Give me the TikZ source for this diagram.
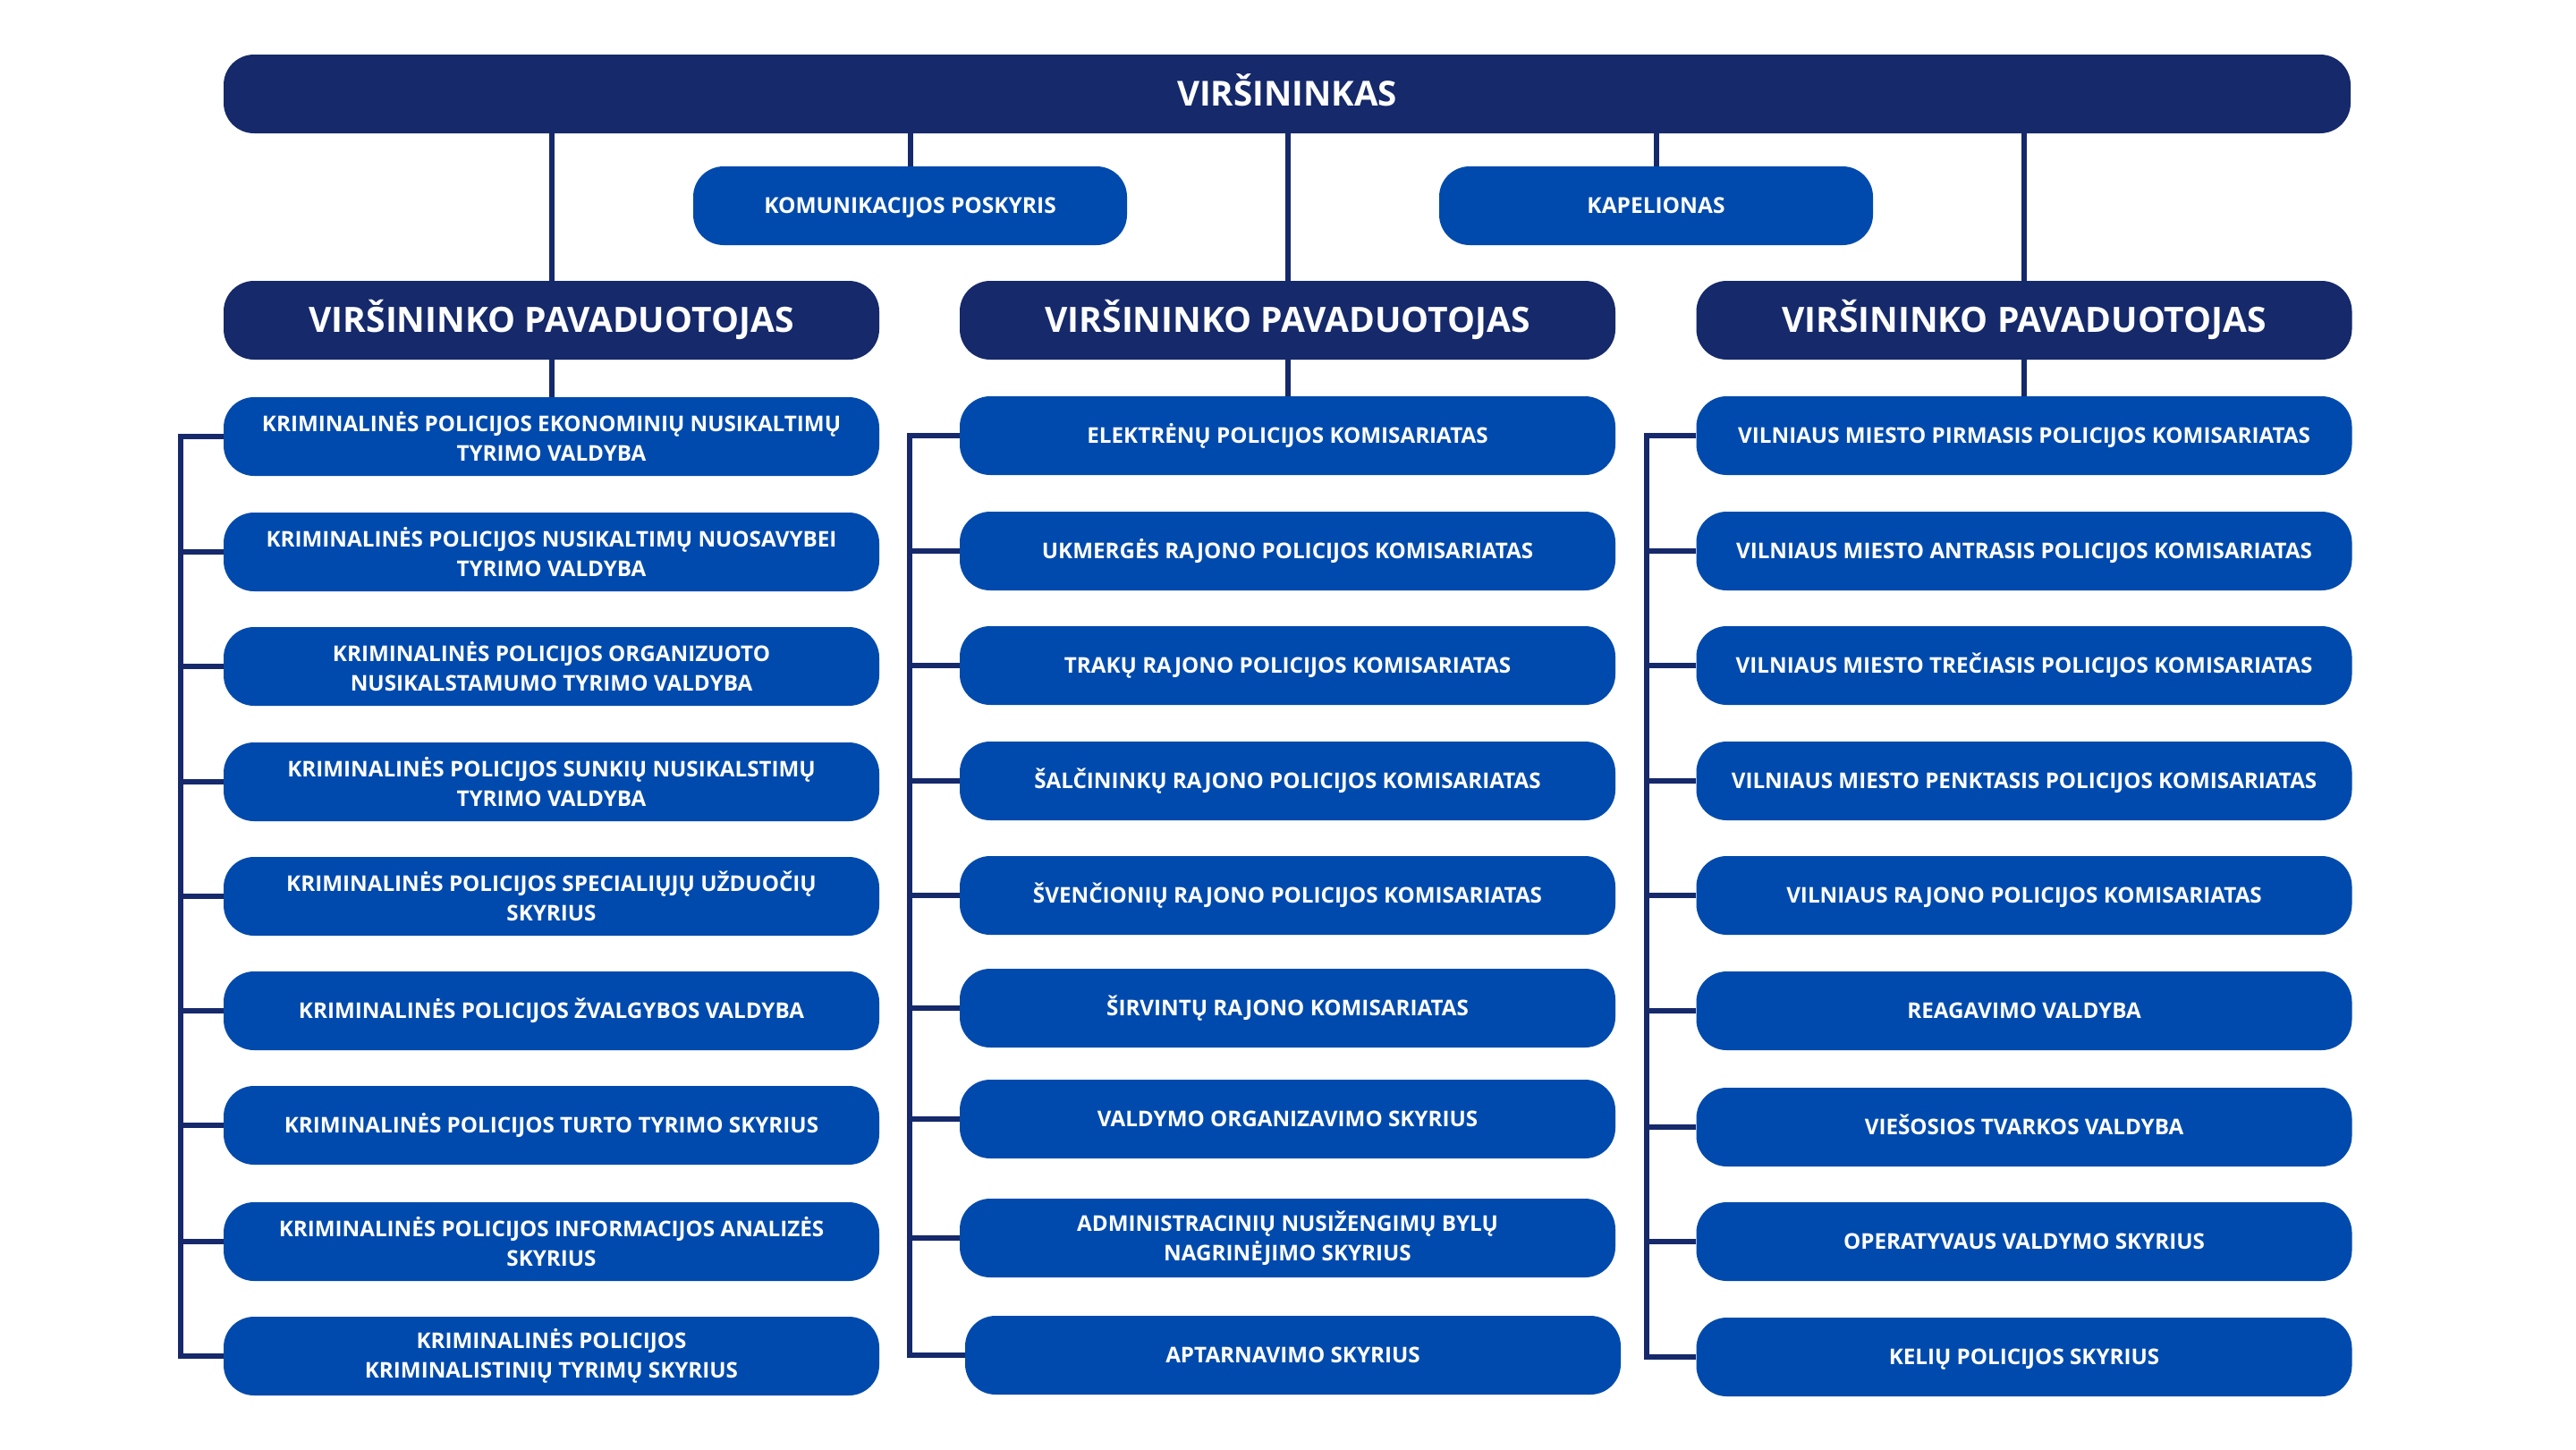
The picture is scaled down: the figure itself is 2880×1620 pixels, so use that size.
\documentclass[tikz,border=0pt]{standalone}
\usepackage{fontspec}
\setmainfont{Open Sans}
\definecolor{navy}{HTML}{15296B}
\definecolor{royal}{HTML}{004AAD}
\tikzset{
  base/.style={rectangle, rounded corners=34pt, inner sep=0pt, text=white, align=center, font=\bfseries},
  topbar/.style={base, fill=navy, minimum width=2378pt, minimum height=88pt, font=\fontsize{38.5}{44}\selectfont\bfseries, text height=27.5pt, text depth=0pt},
  deputy/.style={base, fill=navy, minimum width=733pt, minimum height=88pt, font=\fontsize{39}{44}\selectfont\bfseries, text height=27.8pt, text depth=0pt},
  staff/.style={base, fill=royal, minimum width=485pt, minimum height=88pt, font=\fontsize{24.5}{32}\selectfont\bfseries, text height=17.5pt, text depth=0pt},
  unit/.style={base, fill=royal, minimum width=733pt, minimum height=88pt, font=\fontsize{24.2}{33}\selectfont\bfseries},
  unitone/.style={unit, text height=17.3pt, text depth=0pt},
  conn/.style={draw=navy, line width=6pt},
}
\begin{document}
\begin{tikzpicture}[x=1pt,y=-1pt]
\useasboundingbox (0,0) rectangle (2880,1620);
\fill[white] (0,0) rectangle (2880,1620);

\node[topbar] (top) at (1439,105) {VIRŠININKAS};
\node[staff] (kom) at (1017.5,230) {KOMUNIKACIJOS POSKYRIS};
\node[staff] (kap) at (1851.5,230) {KAPELIONAS};
\node[deputy] (d1) at (616.5,358) {VIRŠININKO PAVADUOTOJAS};
\node[deputy] (d2) at (1439.5,358) {VIRŠININKO PAVADUOTOJAS};
\node[deputy] (d3) at (2263,358) {VIRŠININKO PAVADUOTOJAS};

% left column
\node[unit] (l1) at (616.5,488) {KRIMINALINĖS POLICIJOS EKONOMINIŲ NUSIKALTIMŲ\\TYRIMO VALDYBA};
\node[unit] (l2) at (616.5,617) {KRIMINALINĖS POLICIJOS NUSIKALTIMŲ NUOSAVYBEI\\TYRIMO VALDYBA};
\node[unit] (l3) at (616.5,745) {KRIMINALINĖS POLICIJOS ORGANIZUOTO\\NUSIKALSTAMUMO TYRIMO VALDYBA};
\node[unit] (l4) at (616.5,874) {KRIMINALINĖS POLICIJOS SUNKIŲ NUSIKALSTIMŲ\\TYRIMO VALDYBA};
\node[unit] (l5) at (616.5,1002) {KRIMINALINĖS POLICIJOS SPECIALIŲJŲ UŽDUOČIŲ\\SKYRIUS};
\node[unitone] (l6) at (616.5,1130) {KRIMINALINĖS POLICIJOS ŽVALGYBOS VALDYBA};
\node[unitone] (l7) at (616.5,1258) {KRIMINALINĖS POLICIJOS TURTO TYRIMO SKYRIUS};
\node[unit] (l8) at (616.5,1388) {KRIMINALINĖS POLICIJOS INFORMACIJOS ANALIZĖS\\SKYRIUS};
\node[unit] (l9) at (616.5,1516) {KRIMINALINĖS POLICIJOS\\KRIMINALISTINIŲ TYRIMŲ SKYRIUS};

% middle column
\node[unitone] (m1) at (1439.5,487) {ELEKTRĖNŲ POLICIJOS KOMISARIATAS};
\node[unitone] (m2) at (1439.5,616) {UKMERGĖS RAJONO POLICIJOS KOMISARIATAS};
\node[unitone] (m3) at (1439.5,744) {TRAKŲ RAJONO POLICIJOS KOMISARIATAS};
\node[unitone] (m4) at (1439.5,873) {ŠALČININKŲ RAJONO POLICIJOS KOMISARIATAS};
\node[unitone] (m5) at (1439.5,1001) {ŠVENČIONIŲ RAJONO POLICIJOS KOMISARIATAS};
\node[unitone] (m6) at (1439.5,1127) {ŠIRVINTŲ RAJONO KOMISARIATAS};
\node[unitone] (m7) at (1439.5,1251) {VALDYMO ORGANIZAVIMO SKYRIUS};
\node[unit] (m8) at (1439.5,1384) {ADMINISTRACINIŲ NUSIŽENGIMŲ BYLŲ\\NAGRINĖJIMO SKYRIUS};
\node[unitone] (m9) at (1445.5,1515) {APTARNAVIMO SKYRIUS};

% right column
\node[unitone] (r1) at (2263,487) {VILNIAUS MIESTO PIRMASIS POLICIJOS KOMISARIATAS};
\node[unitone] (r2) at (2263,616) {VILNIAUS MIESTO ANTRASIS POLICIJOS KOMISARIATAS};
\node[unitone] (r3) at (2263,744) {VILNIAUS MIESTO TREČIASIS POLICIJOS KOMISARIATAS};
\node[unitone] (r4) at (2263,873) {VILNIAUS MIESTO PENKTASIS POLICIJOS KOMISARIATAS};
\node[unitone] (r5) at (2263,1001) {VILNIAUS RAJONO POLICIJOS KOMISARIATAS};
\node[unitone] (r6) at (2263,1130) {REAGAVIMO VALDYBA};
\node[unitone] (r7) at (2263,1260) {VIEŠOSIOS TVARKOS VALDYBA};
\node[unitone] (r8) at (2263,1388) {OPERATYVAUS VALDYMO SKYRIUS};
\node[unitone] (r9) at (2263,1517) {KELIŲ POLICIJOS SKYRIUS};

% bracket x positions
\coordinate (bl) at (202,0);
\coordinate (bm) at (1017,0);
\coordinate (br) at (1841,0);

% connectors from top
\foreach \n in {d1,kom,d2,kap,d3}
  \draw[conn] (top.south -| \n.north) -- (\n.north);
% deputy to first unit
\draw[conn] (d1.south) -- (l1.north);
\draw[conn] (d2.south) -- (m1.north);
\draw[conn] (d3.south) -- (r1.north);

% brackets
\draw[conn, line join=miter] (l1.west) -- (l1.west -| bl) -- (l9.west -| bl) -- (l9.west);
\draw[conn, line join=miter] (m1.west) -- (m1.west -| bm) -- (m9.west -| bm) -- (m9.west);
\draw[conn, line join=miter] (r1.west) -- (r1.west -| br) -- (r9.west -| br) -- (r9.west);
\foreach \i in {2,...,8} {
  \draw[conn] (l\i.west -| bl) -- (l\i.west);
  \draw[conn] (m\i.west -| bm) -- (m\i.west);
  \draw[conn] (r\i.west -| br) -- (r\i.west);
}
\end{tikzpicture}
\end{document}
